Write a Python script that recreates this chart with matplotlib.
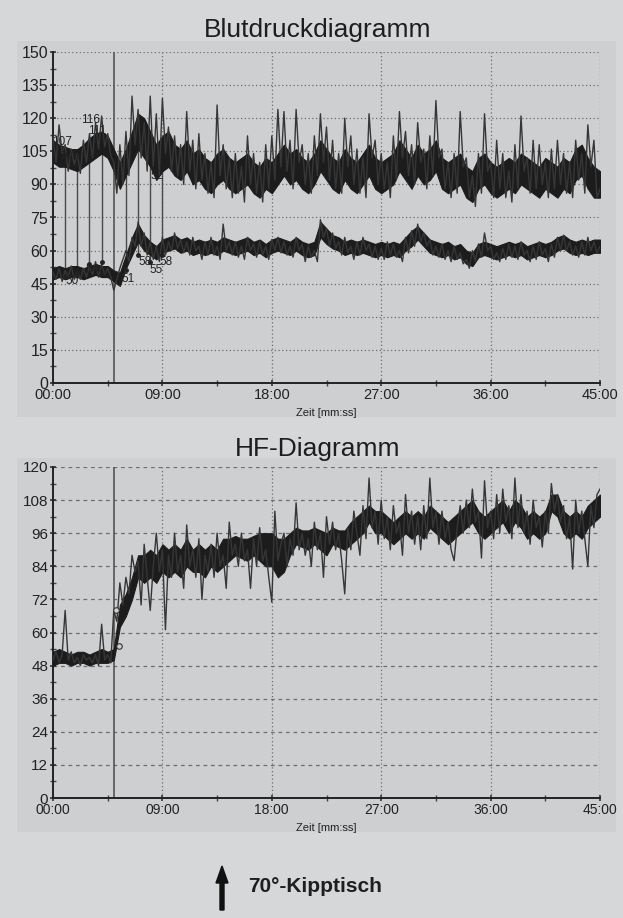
import numpy as np
import matplotlib.pyplot as plt
from matplotlib.ticker import MultipleLocator, FuncFormatter
from matplotlib.patches import Rectangle, FancyArrow

plt.rcParams['font.family'] = ['Liberation Sans', 'DejaVu Sans']

# sampling step of the spiky traces, minutes
step = 0.25
# sampling step of the dense trace cores, minutes
core_step = 0.5

# systolic pressure, mmHg (4 values per minute, 0..45 min)
sys_vals = [
    112, 100, 117, 104, 108, 96, 106, 99, 104, 95, 110, 100, 113, 102, 118, 106, 121, 107, 113, 103,
    100, 86, 108, 90, 114, 94, 130, 108, 124, 102, 118, 96, 130, 98, 122, 94, 129, 104, 116, 96,
    112, 94, 108, 90, 123, 96, 110, 88, 113, 92, 104, 86, 100, 84, 126, 94, 108, 88, 102, 84,
    104, 86, 98, 82, 112, 90, 104, 86, 100, 82, 108, 88, 112, 92, 124, 98, 123, 96, 110, 88,
    124, 100, 108, 90, 104, 86, 112, 94, 122, 100, 116, 92, 110, 88, 104, 86, 120, 98, 112, 90,
    106, 86, 102, 84, 122, 102, 110, 90, 104, 88, 100, 84, 112, 92, 123, 102, 114, 94, 108, 90,
    118, 100, 106, 88, 112, 94, 128, 102, 106, 88, 100, 84, 104, 86, 123, 98, 102, 84, 94, 80,
    104, 86, 122, 96, 100, 84, 110, 88, 104, 84, 96, 82, 108, 88, 121, 96, 102, 86, 110, 88,
    108, 90, 100, 84, 106, 88, 110, 90, 104, 86, 100, 84, 110, 92, 104, 86, 117, 98, 110, 84,
    88,
]

# diastolic pressure, mmHg
dia_vals = [
    50, 47, 52, 46, 51, 48, 53, 47, 50, 47, 52, 48, 53, 49, 55, 48, 54, 49, 52, 48,
    42, 47, 52, 56, 60, 55, 66, 62, 73, 62, 68, 58, 64, 56, 62, 55, 66, 58, 64, 60,
    68, 61, 65, 59, 64, 58, 66, 60, 62, 56, 64, 58, 66, 58, 62, 56, 72, 60, 64, 58,
    64, 57, 62, 56, 66, 60, 63, 57, 64, 58, 62, 56, 65, 60, 66, 59, 64, 58, 62, 57,
    66, 60, 63, 55, 62, 57, 60, 55, 74, 66, 70, 62, 68, 61, 64, 58, 66, 59, 62, 56,
    64, 58, 66, 60, 63, 57, 62, 56, 61, 56, 64, 58, 63, 57, 60, 55, 66, 59, 69, 62,
    72, 64, 68, 62, 65, 58, 62, 57, 63, 56, 60, 55, 62, 56, 59, 54, 56, 52, 60, 55,
    63, 57, 68, 60, 62, 56, 59, 55, 61, 56, 63, 57, 62, 56, 64, 58, 60, 55, 62, 56,
    64, 58, 61, 55, 63, 57, 66, 60, 67, 60, 64, 58, 62, 57, 64, 58, 66, 60, 64, 59,
    62,
]

# heart rate, 1/min
hr_vals = [
    50, 53, 49, 52, 68, 50, 53, 49, 51, 48, 52, 50, 51, 49, 52, 48, 63, 50, 52, 49,
    68, 64, 78, 70, 80, 74, 88, 82, 86, 70, 92, 80, 68, 84, 96, 82, 90, 61, 88, 80,
    96, 82, 88, 76, 99, 84, 90, 80, 94, 72, 88, 82, 92, 80, 96, 84, 88, 76, 100, 88,
    92, 84, 96, 86, 90, 76, 94, 84, 98, 86, 90, 80, 71, 104, 86, 92, 96, 84, 94, 88,
    107, 90, 96, 88, 94, 84, 100, 90, 96, 80, 102, 92, 100, 90, 96, 86, 74, 98, 90, 104,
    96, 88, 106, 94, 116, 98, 104, 92, 108, 94, 102, 90, 106, 96, 100, 88, 110, 96, 104, 92,
    102, 90, 106, 94, 116, 98, 104, 92, 104, 94, 100, 90, 86, 98, 106, 96, 108, 98, 112, 100,
    104, 87, 115, 98, 104, 94, 110, 96, 112, 100, 106, 94, 116, 98, 110, 96, 104, 92, 108, 98,
    102, 91, 104, 96, 114, 104, 110, 100, 106, 94, 102, 83, 108, 96, 104, 94, 84, 106, 98, 110,
    112,
]

# dense core of each trace (lower / upper edge, 2 values per minute)
sys_lo = [100, 98, 98, 97, 96, 98, 100, 102, 104, 102,
          96, 88, 94, 100, 106, 102, 98, 92, 96, 98,
          94, 92, 96, 90, 92, 88, 86, 90, 92, 88,
          86, 88, 90, 86, 84, 88, 86, 90, 94, 90,
          92, 88, 86, 90, 96, 92, 88, 86, 92, 88,
          86, 90, 94, 88, 86, 88, 90, 96, 92, 88,
          94, 90, 92, 96, 88, 86, 88, 90, 84, 82,
          88, 90, 86, 84, 86, 88, 86, 90, 88, 86,
          84, 88, 86, 84, 88, 86, 92, 94, 88, 84, 84]
sys_hi = [110, 108, 107, 106, 106, 108, 111, 113, 114, 112,
          106, 100, 106, 114, 122, 120, 114, 108, 112, 114,
          108, 106, 110, 104, 106, 102, 100, 104, 106, 102,
          100, 102, 104, 100, 98, 102, 100, 104, 108, 104,
          106, 102, 100, 104, 110, 106, 102, 100, 106, 102,
          100, 104, 108, 102, 100, 102, 104, 110, 106, 102,
          108, 104, 106, 110, 102, 100, 102, 104, 98, 96,
          102, 104, 100, 98, 100, 102, 100, 104, 102, 100,
          98, 102, 100, 98, 102, 100, 106, 108, 102, 98, 96]
dia_lo = [47, 48, 47, 48, 48, 47, 48, 49, 48, 48,
          46, 44, 52, 58, 64, 60, 58, 56, 59, 60,
          61, 59, 60, 58, 59, 58, 59, 58, 60, 59,
          58, 59, 60, 58, 59, 57, 59, 60, 59, 58,
          60, 58, 57, 58, 66, 63, 61, 60, 58, 59,
          58, 59, 58, 57, 58, 57, 58, 57, 60, 62,
          65, 62, 59, 58, 57, 58, 56, 57, 54, 53,
          57, 58, 57, 56, 57, 58, 57, 58, 56, 57,
          58, 57, 58, 60, 61, 59, 58, 59, 58, 59, 59]
dia_hi = [52, 53, 52, 53, 53, 52, 53, 54, 53, 53,
          51, 50, 58, 66, 72, 67, 64, 62, 65, 66,
          67, 65, 66, 64, 65, 64, 65, 64, 66, 65,
          64, 65, 66, 64, 65, 63, 65, 66, 65, 64,
          66, 64, 63, 64, 73, 70, 67, 66, 64, 65,
          64, 65, 64, 63, 64, 63, 64, 63, 66, 69,
          71, 68, 65, 64, 63, 64, 62, 63, 60, 59,
          63, 64, 63, 62, 63, 64, 63, 64, 62, 63,
          64, 63, 64, 66, 67, 65, 64, 65, 64, 65, 65]
hr_lo = [48, 49, 49, 48, 49, 49, 48, 49, 49, 49,
         50, 62, 66, 72, 80, 78, 80, 78, 82, 80,
         82, 80, 84, 82, 82, 80, 84, 82, 84, 86,
         88, 87, 86, 88, 86, 84, 84, 80, 82, 88,
         92, 91, 90, 92, 90, 88, 92, 91, 90, 92,
         94, 96, 100, 96, 96, 94, 92, 94, 96, 94,
         96, 94, 98, 96, 94, 92, 94, 96, 98, 100,
         96, 94, 96, 98, 100, 96, 100, 98, 94, 96,
         94, 96, 104, 102, 96, 94, 96, 94, 98, 100, 102]
hr_hi = [53, 54, 53, 52, 53, 53, 52, 53, 54, 53,
         54, 70, 74, 80, 88, 88, 90, 88, 92, 90,
         92, 90, 94, 90, 92, 90, 92, 90, 94, 94,
         95, 94, 94, 95, 96, 96, 96, 94, 94, 96,
         98, 97, 97, 98, 97, 96, 98, 97, 97, 100,
         102, 104, 106, 104, 104, 102, 100, 102, 104, 102,
         104, 102, 106, 104, 102, 100, 102, 104, 106, 108,
         104, 102, 104, 106, 108, 104, 108, 106, 102, 104,
         102, 104, 110, 110, 104, 102, 104, 102, 106, 108, 110]

# intermittent measurements (min, systolic, diastolic)
meas_t = [1, 2, 3, 4, 6, 7, 8, 9]
meas_sys = [106, 104, 110, 116, 100, 112, 104, 98]
meas_dia = [48, 50, 54, 55, 51, 58, 55, 58]

# value labels in the blood pressure plot
ann_text = ['107', '105', '116', '111', '52', '50', '54', '51', '51', '58', '58', '55']
ann_t = [0.7, 1.3, 3.1, 3.6, 8.6, 1.6, 3.2, 4.0, 6.2, 7.6, 9.3, 8.5]
ann_v = [109, 103, 119, 114, 94, 46, 51, 50, 47, 55, 55, 51]

# heart rate markers at the tilt
hr_mark_t = [5.2, 5.4]
hr_mark_v = [68, 55]

tilt_t = 5.0

fig_bg = '#d6d7d9'
panel_bg = '#cecfd1'
trace = '#1c1c1c'
spike = '#363636'
grid_c = '#6e6e6e'

W, H = 623, 918
fig = plt.figure(figsize=(W / 100, H / 100), dpi=100, facecolor=fig_bg)

for y0, y1 in [(41, 417), (458, 832)]:
    fig.patches.append(Rectangle((17 / W, 1 - y1 / H), (616 - 17) / W, (y1 - y0) / H,
                                 transform=fig.transFigure, facecolor=panel_bg,
                                 edgecolor='none', zorder=-5))

ax1 = fig.add_axes([53 / W, 1 - 383 / H, 547 / W, 331 / H])
ax2 = fig.add_axes([53 / W, 1 - 798 / H, 547 / W, 331 / H])


def times(vals, dt):
    return np.arange(len(vals)) * dt


def mmss(x, pos):
    return '%02d:00' % int(round(x))


def style(ax, ymax, ymaj, hstyle, xsize, ysize):
    ax.set_facecolor(panel_bg)
    ax.set_xlim(0, 45)
    ax.set_ylim(0, ymax)
    ax.xaxis.set_major_locator(MultipleLocator(9))
    ax.xaxis.set_minor_locator(MultipleLocator(4.5))
    ax.yaxis.set_major_locator(MultipleLocator(ymaj))
    ax.yaxis.set_minor_locator(MultipleLocator(ymaj / 2))
    ax.xaxis.set_major_formatter(FuncFormatter(mmss))
    for s in ['top', 'right']:
        ax.spines[s].set_visible(False)
    for s in ['left', 'bottom']:
        ax.spines[s].set_color('#222222')
        ax.spines[s].set_linewidth(1.4)
    ax.tick_params(which='major', direction='inout', length=5, width=1.2,
                   color='#333333', labelcolor='#222222', pad=1)
    ax.tick_params(axis='x', labelsize=xsize)
    ax.tick_params(axis='y', labelsize=ysize)
    ax.tick_params(which='minor', direction='inout', length=4, width=1.0, color='#444444')
    for v in np.arange(ymaj, ymax + 0.1, ymaj):
        ax.axhline(v, color=grid_c, lw=0.9, ls=hstyle, zorder=1)
    for v in [9, 18, 27, 36, 45]:
        ax.axvline(v, color=grid_c, lw=0.9, ls=(0, (1, 2)), zorder=1)
    ax.axvline(tilt_t, color='#555555', lw=1.2, zorder=2)
    ax.text(0.5, -0.075, 'Zeit [mm:ss]', transform=ax.transAxes, ha='center', va='top',
            fontsize=8, color='#222222')


style(ax1, 150, 15, (0, (1, 2)), 10.5, 11.5)
style(ax2, 120, 12, (0, (3, 3)), 10, 11)

# blood pressure traces
ax1.fill_between(times(sys_lo, core_step), sys_lo, sys_hi, color=trace, lw=0.8, zorder=3)
ax1.fill_between(times(dia_lo, core_step), dia_lo, dia_hi, color=trace, lw=0.8, zorder=3)
ax1.plot(times(sys_vals, step), sys_vals, color=spike, lw=1.0, zorder=3)
ax1.plot(times(dia_vals, step), dia_vals, color=spike, lw=1.0, zorder=3)
ax1.vlines(meas_t, meas_dia, meas_sys, color='#4a4a4a', lw=1.0, zorder=2)
ax1.plot(meas_t, meas_dia, 'o', ms=2.5, color='#222222', zorder=3)
for s, x, y in zip(ann_text, ann_t, ann_v):
    ax1.text(x, y, s, fontsize=8.5, ha='center', va='center', color='#222222', zorder=4)

# heart rate trace
ax2.fill_between(times(hr_lo, core_step), hr_lo, hr_hi, color=trace, lw=0.8, zorder=3)
ax2.plot(times(hr_vals, step), hr_vals, color=spike, lw=1.0, zorder=3)
ax2.plot(hr_mark_t, hr_mark_v, 'o', ms=4, mfc=panel_bg, mec='#333333', mew=0.8, zorder=4)

fig.text(318 / W, 1 - 30 / H, 'Blutdruckdiagramm', ha='center', va='center',
         fontsize=19, color='#1e1e1e')
fig.text(318 / W, 1 - 449 / H, 'HF-Diagramm', ha='center', va='center',
         fontsize=19, color='#1e1e1e')

fig.add_artist(FancyArrow(222 / W, 8 / H, 0, 44 / H, width=4 / W, head_width=12 / W,
                          head_length=17 / H, length_includes_head=True,
                          transform=fig.transFigure, color='#111111'))
fig.text(248 / W, 1 - 886 / H, '70°-Kipptisch', ha='left', va='center',
         fontsize=15, fontweight='bold', color='#1e1e1e')

fig.savefig('out.png', dpi=100, facecolor=fig_bg)
